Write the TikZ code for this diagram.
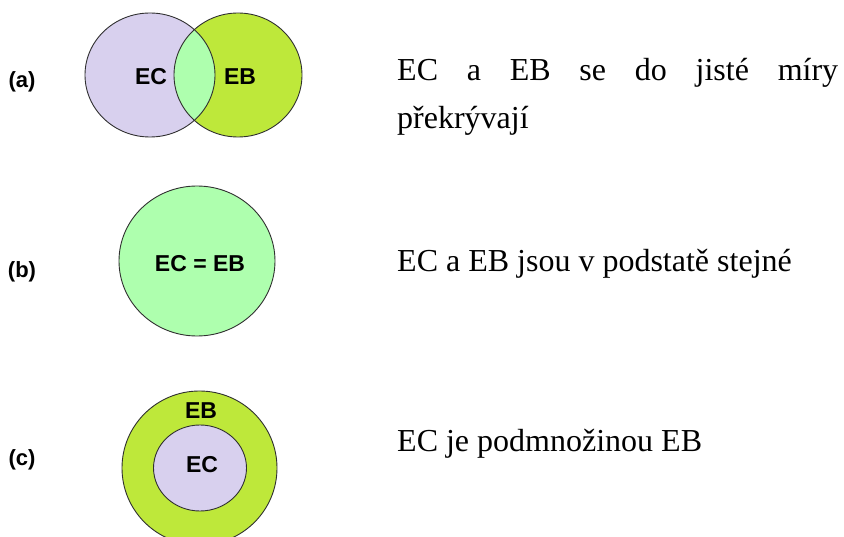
\documentclass[tikz,border=0pt]{standalone}
\usepackage{fontspec}
\setmainfont{Liberation Serif}
\newfontfamily\labelfont{Liberation Sans}
\usetikzlibrary{shapes.geometric}

\definecolor{ecfill}{HTML}{D8D0EE}
\definecolor{ebfill}{HTML}{BEE83A}
\definecolor{samefill}{HTML}{AEFFAE}
\definecolor{rimcol}{HTML}{303030}

\tikzset{
  setshape/.style={ellipse, inner sep=0pt, outer sep=0pt},
  ecset/.style={setshape, fill=ecfill},
  ebset/.style={setshape, fill=ebfill},
  sameset/.style={setshape, fill=samefill},
  rim/.style={draw=rimcol, line width=0.9pt},
  tag/.style={font=\labelfont\bfseries\fontsize{23}{27}\selectfont, inner sep=0pt},
  caseno/.style={font=\labelfont\bfseries\fontsize{22}{26}\selectfont, inner sep=0pt},
  note/.style={anchor=base west, inner sep=0pt, font=\fontsize{32}{48}\selectfont},
}

\begin{document}
\begin{tikzpicture}[x=1pt, y=-1pt]
  \useasboundingbox (0,0) rectangle (844,537);
  \clip (0,0) rectangle (844,537);

  % (a) partial overlap
  \node[ecset, minimum width=130pt, minimum height=124pt] (ecA) at (150,75) {};
  \node[ebset, minimum width=128pt, minimum height=124pt] (ebA) at (238,75) {};
  \begin{scope}
    \clip (ecA.center) ellipse [x radius=65pt, y radius=62pt];
    \fill[samefill] (ebA.center) ellipse [x radius=64pt, y radius=62pt];
  \end{scope}
  \draw[rim] (ecA.center) ellipse [x radius=65pt, y radius=62pt];
  \draw[rim] (ebA.center) ellipse [x radius=64pt, y radius=62pt];
  \node[tag] (ecAlbl) at (151,77) {EC};
  \node[tag] (ebAlbl) at (240,77) {EB};
  \node[caseno] (casea) at (22,82) {(a)};

  % (b) identical sets
  \node[sameset, rim, minimum width=156pt, minimum height=150pt] (same) at (197,261) {};
  \node[tag] (sameLbl) at (200,263.5) {EC = EB};
  \node[caseno] (caseb) at (22,272) {(b)};

  % (c) EC inside EB
  \node[ebset, rim, minimum width=155pt, minimum height=154pt] (ebC) at (199.5,468) {};
  \node[ecset, rim, minimum width=93pt, minimum height=86pt] (ecC) at (200,468) {};
  \node[tag] (ebClbl) at (201,411) {EB};
  \node[tag] (ecClbl) at (202,465) {EC};
  \node[caseno] (casec) at (22,460) {(c)};

  % descriptions
  \node[note] (notea) at (397,81)
    {\parbox[t]{441pt}{EC a EB se do jisté míry\linebreak překrývají}};
  \node[note] (noteb) at (397,272) {EC a EB jsou v podstatě stejné};
  \node[note] (notec) at (397,451) {EC je podmnožinou EB};
\end{tikzpicture}
\end{document}
